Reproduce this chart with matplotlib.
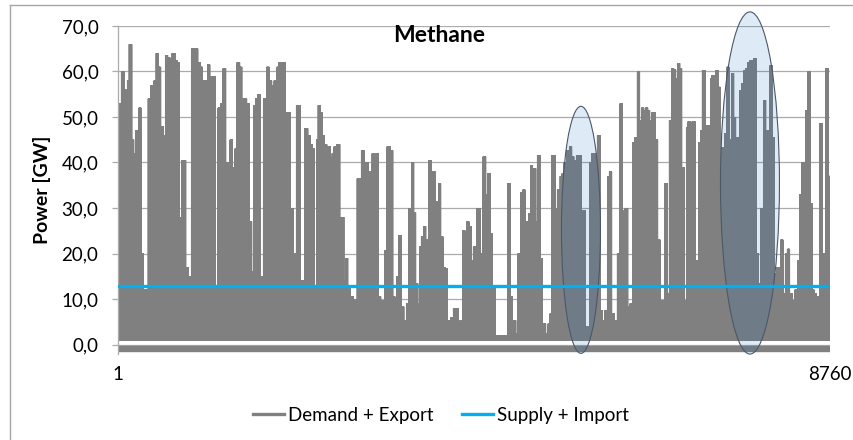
import matplotlib
matplotlib.use("Agg")
import matplotlib.pyplot as plt
from matplotlib.patches import Ellipse
from matplotlib.lines import Line2D
import numpy as np

# ---------------- data ----------------
# Demand + Export: hourly series, summarised as segments (start hour, peak GW)
seg_start_h = [
    1, 42, 71, 96, 116, 137, 166, 190, 215, 235, 256, 280, 305, 371, 403, 444, 469, 494, 522, 555,
    584, 608, 637, 666, 699, 723, 748, 781, 830, 863, 904, 945, 978, 1006, 1035, 1068, 1101, 1125,
    1158, 1191, 1232, 1265, 1293, 1322, 1355, 1379, 1404, 1437, 1466, 1494, 1519, 1552, 1580, 1609,
    1642, 1667, 1691, 1724, 1749, 1790, 1827, 1855, 1888, 1921, 1954, 1978, 2011, 2052, 2077, 2114,
    2155, 2196,
    2238, 2299, 2332, 2361, 2389, 2414, 2443, 2463, 2488, 2512, 2537, 2566, 2586, 2611, 2635, 2660,
    2693, 2725, 2775, 2799, 2824, 2853, 2894, 2943, 2976, 2996, 3029, 3049, 3078, 3107, 3127, 3152,
    3176, 3201, 3230, 3263, 3283, 3312, 3345, 3377, 3406, 3431, 3455, 3480, 3513, 3550, 3578, 3611,
    3636, 3660, 3685, 3714, 3734, 3759, 3783, 3808, 3824, 3849, 3873, 3898, 3923, 3947, 3968, 3996,
    4021, 4046, 4070, 4095, 4128, 4185, 4210, 4242, 4267, 4292, 4316, 4341, 4374, 4411,
    4453, 4494, 4522, 4547, 4576, 4604, 4637, 4793, 4822, 4850, 4891, 4924, 4957, 4981, 5006, 5031,
    5055, 5080, 5096, 5113, 5137, 5162, 5195, 5219, 5260, 5293, 5318, 5342, 5375, 5408, 5441, 5465,
    5490, 5523, 5555, 5580, 5605, 5642, 5695, 5724, 5744, 5806, 5834, 5867, 5900, 5933, 5957, 5990,
    6023, 6047, 6072, 6105, 6146, 6179, 6203, 6236, 6269, 6302, 6334, 6359, 6392, 6416, 6441, 6466,
    6490, 6515, 6539, 6572, 6605, 6638,
    6668, 6709, 6729, 6758, 6786, 6811, 6836, 6860, 6885, 6909, 6934, 6963, 6996, 7016, 7041, 7065,
    7098, 7123, 7147, 7172, 7192, 7221, 7246, 7270, 7295, 7311, 7336, 7360, 7385, 7410, 7442, 7467,
    7492, 7516, 7549, 7574, 7598, 7631, 7656, 7680, 7705, 7729, 7754, 7779, 7803, 7828, 7852, 7877,
    7910, 7943, 7967, 8000, 8025, 8049, 8074, 8107, 8131, 8156, 8180, 8213, 8238, 8262, 8295, 8328,
    8369, 8394, 8418, 8443, 8467, 8492, 8517, 8541, 8566, 8590, 8615, 8640, 8664, 8689, 8714, 8734,
]
seg_peak_gw = [
    53, 60, 56, 17, 58, 66, 45, 42, 47, 40, 52, 20, 12, 54, 57, 58, 64, 61, 48, 46,
    63.6, 63, 40, 64, 62.5, 62, 28, 40.5, 17, 15, 65, 65, 62, 61, 58, 58, 61.5, 59,
    59, 13, 52, 53, 60.7, 40, 35, 45, 39, 43, 62, 61, 54, 54, 53, 27,
    16, 52.6, 54, 55, 15, 54, 61, 58, 57, 58, 61, 62, 62, 48, 51, 30,
    20, 52.6,
    14, 47.5, 46, 44, 43, 12.7, 45, 52.6, 51, 46, 44, 35, 43.5, 41, 42, 43.5,
    44, 28, 14, 19, 12.7, 10.5, 10, 36.5, 30, 42.7, 30, 40, 38, 36, 42, 24,
    42, 10.5, 9.7, 9, 20.7, 43.5, 42.7, 10.5, 7.5, 15, 24, 8.3, 5.3, 9, 30, 40,
    29, 13.4, 9, 21.5, 23.7, 26, 23, 8.3, 40.5, 37.6, 38, 31.4, 27, 35.4, 23.7, 17,
    16.7, 3.9, 5.3, 6, 8, 2, 5.3, 25, 24.4, 27, 26, 18.5, 21.5, 30,
    20, 41.3, 33, 37.6, 24.4, 12.7, 2, 35.4, 10.5, 5.3, 2.4, 20, 33.5, 34, 27, 20.7,
    28.8, 39.4, 28, 38.7, 27, 41.6, 19, 4.6, 2.4, 4.6, 6.8, 41.6, 30, 34, 37, 37.6,
    40, 42.7, 43.5, 41.3, 40.5, 41.6, 12.7, 29.5, 3.9, 40, 42, 41.6, 46, 7.5, 5.3, 7.5,
    37, 38, 6.8, 5.3, 20, 53, 29.5, 30, 8.3, 9, 44.5, 45.6, 60, 49.3, 52, 51.5,
    52, 51.5, 49.3, 51, 45, 23,
    9.7, 9, 35.4, 11.2, 49.3, 60.7, 60.4, 58.5, 61.8, 60.7, 39, 9.7, 47.8, 49, 48.6, 49,
    18.5, 9.7, 44.5, 47, 60.3, 47.5, 48.2, 47, 58.5, 59.2, 45, 60.3, 56.6, 43.4, 9, 46.4,
    61, 45, 59.6, 50, 45.6, 31, 55.9, 57.4, 60.3, 60.7, 62, 62.5, 61.8, 62.9, 20, 13.4,
    30, 53.7, 47, 30, 61.4, 45.6, 15.6, 17, 11.2, 23, 11.2, 20, 21, 11.2, 9.7, 12,
    18.5, 33, 40, 39.7, 51.5, 60, 31, 12, 11.2, 10.5, 8.3, 48.6, 20, 10.5, 60.7, 37,
]
demand_trough_gw = 0.9          # typical hourly minimum of demand + export
baseline_band_gw = -0.95        # thick grey band just below the zero line

supply_hours = [1, 8760]
supply_gw = [12.9, 12.9]        # Supply + Import (flat)

hours_total = 8760
y_ticks = [0, 10, 20, 30, 40, 50, 60, 70]
y_tick_labels = ["0,0", "10,0", "20,0", "30,0", "40,0", "50,0", "60,0", "70,0"]
x_ticks = [1, 8760]
x_tick_labels = ["1", "8760"]

# highlighted periods (ellipses): centre hour, centre GW, width h, height GW
highlights = [
    (5695, 25.2, 480, 54.3),
    (7775, 35.5, 726, 75.2),
]

title = "Methane"
y_label = "Power [GW]"
series_names = ["Demand + Export", "Supply + Import"]

# ---------------- build the hourly demand trace ----------------
hours = np.arange(1, hours_total + 1)
seg_idx = np.searchsorted(np.array(seg_start_h), hours, side="right") - 1
peaks = np.array(seg_peak_gw)[seg_idx]
demand = np.where(hours % 2 == 0, peaks, demand_trough_gw)

# ---------------- figure ----------------
plt.rcParams["font.family"] = ["Lato", "DejaVu Sans"]
W, H = 854, 440
fig = plt.figure(figsize=(W / 100, H / 100), dpi=100)
fig.patch.set_facecolor("white")

ax = fig.add_axes([118.3 / W, 1 - 353.6 / H, 711.7 / W, (353.6 - 26) / H])
ax.set_xlim(1, hours_total)
ax.set_ylim(-2, 70)

GRID = "#ababab"
DEMAND = "#808080"
SUPPLY = "#00B0F0"

ax.plot(hours, demand, color=DEMAND, lw=1.0, zorder=2, solid_joinstyle="miter")
ax.axhline(baseline_band_gw, color=DEMAND, lw=4.6, zorder=2)
ax.plot(supply_hours, supply_gw, color=SUPPLY, lw=2.4, zorder=5)

for cx, cy, w, h in highlights:
    e = Ellipse((cx, cy), w, h, facecolor=(0.0, 0.39, 0.73, 0.13),
                edgecolor="#4a5868", lw=0.8, zorder=4, clip_on=False)
    ax.add_patch(e)

ax.set_yticks(y_ticks)
ax.set_yticklabels(y_tick_labels)
ax.set_xticks(x_ticks)
ax.set_xticklabels(x_tick_labels)
ax.grid(axis="y", color=GRID, lw=0.9)
ax.set_axisbelow(True)
ax.tick_params(axis="y", length=4.3, width=0.9, color=GRID, pad=10, labelsize=13.5)
ax.tick_params(axis="x", length=0, pad=9, labelsize=13.5)
for s in ["top", "right", "bottom"]:
    ax.spines[s].set_visible(False)
ax.spines["left"].set_color(GRID)
ax.spines["left"].set_linewidth(0.9)

fig.text(439 / W, 1 - 42 / H, title, ha="center", va="baseline",
         fontsize=16.5, fontweight="bold")
fig.text(42 / W, 1 - 190 / H, y_label, ha="center", va="center",
         rotation=90, fontsize=14, fontweight="bold")

handles = [Line2D([], [], color=DEMAND, lw=2.4), Line2D([], [], color=SUPPLY, lw=2.4)]
fig.legend(handles, series_names, loc="center", bbox_to_anchor=(441 / W, 1 - 415 / H),
           ncol=2, frameon=False, fontsize=13.5, handlelength=1.65,
           handletextpad=0.2, columnspacing=1.55)

# chart-area border (only top and left edges fall inside the picture)
fig.add_artist(Line2D([10 / W, 1.0], [1 - 5 / H, 1 - 5 / H], color="#a6a6a6", lw=1.0,
                      transform=fig.transFigure))
fig.add_artist(Line2D([10 / W, 10 / W], [0.0, 1 - 5 / H], color="#a6a6a6", lw=1.0,
                      transform=fig.transFigure))

fig.savefig("out.png", dpi=100)
